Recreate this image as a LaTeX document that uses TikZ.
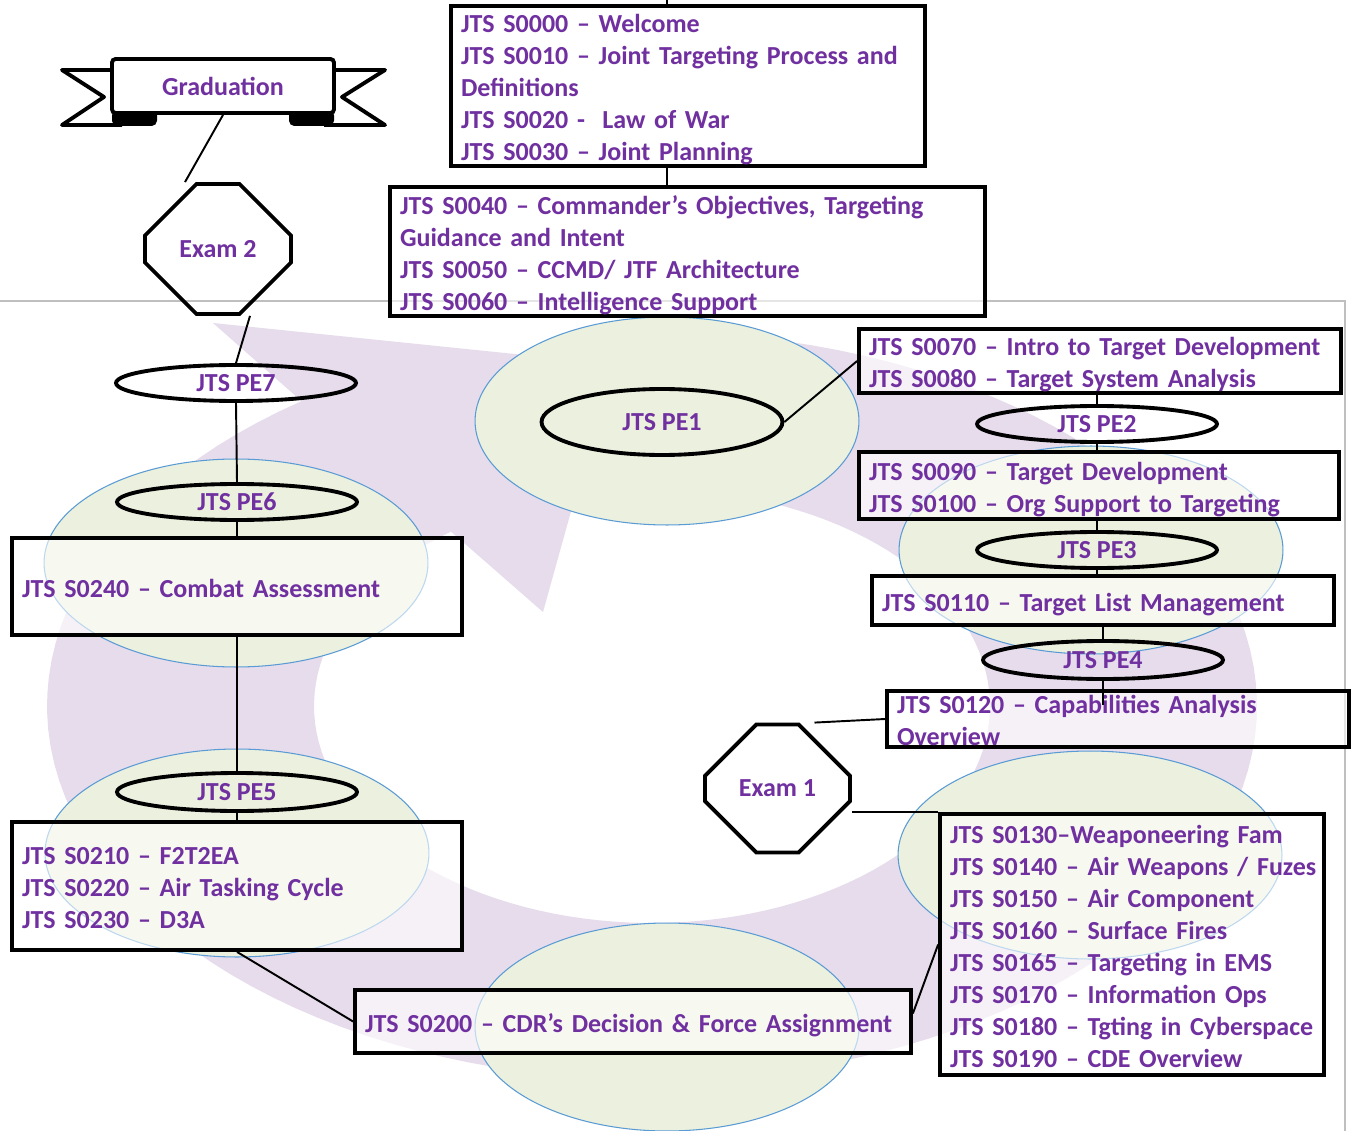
\documentclass[tikz,border=0pt]{standalone}
\usepackage{fontspec}
\setmainfont{Carlito}
\usepackage{tikz}
\usetikzlibrary{shapes.geometric, shapes.misc, positioning, calc}
\definecolor{jtspurple}{RGB}{112,48,160}
\definecolor{lilac}{RGB}{230,220,236}
\definecolor{blobgreen}{RGB}{235,241,222}
\definecolor{blobblue}{RGB}{91,155,213}
\definecolor{framegrey}{RGB}{191,191,191}
\newcommand{\jtsfont}{\bfseries\fontsize{14.8}{18.2}\selectfont}
% one line of the box per row, no wrapping
\newcommand{\lessons}[1]{\raisebox{-0.09cm}[\height][\depth]{\begin{tabular}{@{}l@{}}#1\end{tabular}}}
\tikzset{
    box/.style = {draw=black, line width=2.2pt, fill=white, fill opacity=0.6,
        text opacity=1, text=jtspurple, align=left, inner xsep=0.2cm,
        inner ysep=0pt, font=\jtsfont},
    pe/.style = {ellipse, draw=black, line width=2.2pt, inner sep=0pt,
        minimum width=4.8cm, minimum height=0.72cm, text=jtspurple, font=\jtsfont},
    exam/.style = {chamfered rectangle, chamfered rectangle xsep=0.74cm,
        chamfered rectangle ysep=0.74cm, draw=black, line width=2.2pt,
        minimum width=2.9cm, minimum height=2.56cm, text=jtspurple, font=\jtsfont},
    banner/.style = {draw=black, line width=2.2pt, fill=white, rounded corners=2pt,
        minimum width=4.44cm, minimum height=1.08cm, text=jtspurple, font=\jtsfont},
    blob/.style = {fill=blobgreen, draw=blobblue, line width=0.6pt},
    link/.style = {draw=black, line width=1.1pt},
}
\begin{document}
\begin{tikzpicture}[x=0.02cm, y=-0.02cm]
\useasboundingbox (0,0) rectangle (1351,1131);
\fill[white] (0,0) rectangle (1351,1131);
% slide frame
\draw[framegrey, line width=0.6pt] (0,301) -- (1345,301) -- (1345,1131);
% cycle arrow
\fill[lilac] plot[domain=80:-234.6, samples=120] ({652+605*cos(\x)}, {706-374*sin(\x)})
    -- (213,323) -- (612,364) -- (543,612)
    -- plot[domain=-233.5:80, samples=120] ({652+338*cos(\x)}, {706-217*sin(\x)}) -- cycle;
% phase discs
\foreach \cx/\cy in {667/421, 236/563, 1091/550, 1090/855, 237/853, 667/1027}
    \draw[blob] (\cx,\cy) ellipse [x radius=3.84cm, y radius=2.08cm];

% lesson boxes
\node[box, text width=9.08cm, minimum height=3.2cm] (s0000) at (688,86)
    {\lessons{JTS S0000 – Welcome\\JTS S0010 – Joint Targeting Process and\\Definitions\\JTS S0020 -\ \ Law of War\\JTS S0030 – Joint Planning}};
\node[box, text width=11.5cm, minimum height=2.58cm] (s0040) at (687.5,251.5)
    {\lessons{JTS S0040 – Commander’s Objectives, Targeting\\Guidance and Intent\\JTS S0050 – CCMD/ JTF Architecture\\JTS S0060 – Intelligence Support}};
\node[box, text width=9.24cm, minimum height=1.28cm] (s0070) at (1100,361)
    {\lessons{JTS S0070 – Intro to Target Development\\JTS S0080 – Target System Analysis}};
\node[box, text width=9.2cm, minimum height=1.34cm] (s0090) at (1099,485.5)
    {\lessons{JTS S0090 – Target Development\\JTS S0100 – Org Support to Targeting}};
\node[box, text width=8.84cm, minimum height=0.98cm] (s0110) at (1103,600.5)
    {\lessons{JTS S0110 – Target List Management}};
\node[box, text width=8.84cm, minimum height=1.12cm, inner ysep=-2.3pt] (s0120) at (1118,719)
    {\lessons{JTS S0120 – Capabilities Analysis\\Overview}};
\node[box, text width=7.28cm, minimum height=5.22cm] (s0130) at (1132,944.5)
    {\lessons{JTS S0130–Weaponeering Fam\\JTS S0140 – Air Weapons / Fuzes\\JTS S0150 – Air Component\\JTS S0160 – Surface Fires\\JTS S0165 – Targeting in EMS\\JTS S0170 – Information Ops\\JTS S0180 – Tgting in Cyberspace\\JTS S0190 – CDE Overview}};
\node[box, text width=10.72cm, minimum height=1.26cm] (s0200) at (633,1021.5)
    {\lessons{JTS S0200 – CDR’s Decision \& Force Assignment}};
\node[box, text width=8.6cm, minimum height=2.56cm] (s0210) at (237,886)
    {\lessons{JTS S0210 – F2T2EA\\JTS S0220 – Air Tasking Cycle\\JTS S0230 – D3A}};
\node[box, text width=8.6cm, minimum height=1.94cm] (s0240) at (237,586.5)
    {\lessons{JTS S0240 – Combat Assessment}};

% practical exercises
\node[pe, minimum width=4.82cm, minimum height=1.32cm] (pe1) at (662,422) {JTS PE1};
\node[pe] (pe2) at (1097,424) {JTS PE2};
\node[pe] (pe3) at (1097,550) {JTS PE3};
\node[pe, minimum height=0.76cm] (pe4) at (1103,660) {JTS PE4};
\node[pe, minimum height=0.76cm] (pe5) at (237,792) {JTS PE5};
\node[pe] (pe6) at (237,502) {JTS PE6};
\node[pe] (pe7) at (236,383) {JTS PE7};

% exams and graduation
\node[exam] (exam1) at (777.5,788.5) {Exam 1};
\node[exam, minimum width=2.92cm, minimum height=2.6cm] (exam2) at (218,249) {Exam 2};
\filldraw[fill=white, line width=2.2pt, line join=round]
    (112,70) -- (62,70) -- (104,97) -- (62,125) -- (122,125);
\filldraw[fill=white, line width=2.2pt, line join=round]
    (334,70) -- (385,70) -- (342,97) -- (385,125) -- (324,125);
\fill[rounded corners=3pt] (112,110) rectangle (157,126);
\fill[rounded corners=3pt] (289,110) rectangle (334,126);
\node[banner] (grad) at (223,86) {Graduation};

% connectors
\coordinate (top) at (667,0);
\draw[link] (top) -- (top |- s0000.north);
\draw[link] (top |- s0000.south) -- (top |- s0040.north);
\draw[link] (pe1.east) -- (s0070.west);
\draw[link] (pe2.north) -- (pe2.north |- s0070.south);
\draw[link] (pe2.south) -- (pe2.south |- s0090.north);
\draw[link] (pe3.north) -- (pe3.north |- s0090.south);
\draw[link] (pe3.south) -- (pe3.south |- s0110.north);
\draw[link] (pe4.north) -- (pe4.north |- s0110.south);
\draw[link] (pe4.south) -- ++(0,24);
\draw[link] ([xshift=0.74cm]exam1.north) -- (s0120.west);
\draw[link] (s0130.north west) -- (s0130.north west -| exam1.east);
\draw[link] (s0130.west) -- ([yshift=0.16cm]s0200.east);
\draw[link] (s0200.west) -- (s0210.south);
\draw[link] (s0210.north) -- (pe5.south);
\draw[link] (pe5.north) -- (s0240.south);
\draw[link] (s0240.north) -- (pe6.south);
\draw[link] (pe6.north) -- (pe7.south);
\draw[link] (pe7.north) -- ([xshift=0.64cm]exam2.south);
\draw[link] ([xshift=-0.66cm]exam2.north) -- (grad.south);
\end{tikzpicture}
\end{document}
